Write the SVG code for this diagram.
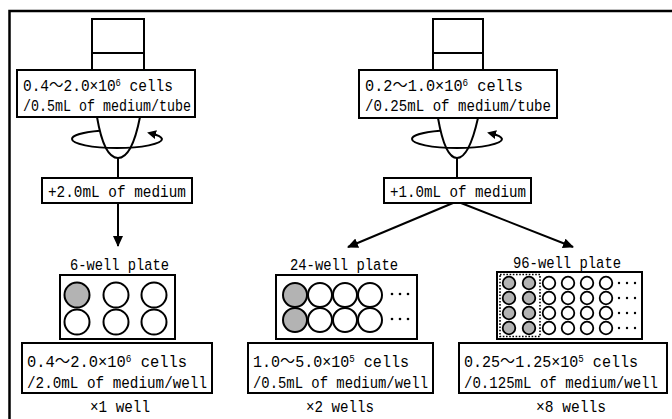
<svg xmlns="http://www.w3.org/2000/svg" width="672" height="419" viewBox="0 0 672 419">
<style>
.t{font-family:"Liberation Mono","Noto Sans CJK JP",monospace;font-size:14px;fill:#000}
.sup{font-size:8.5px}
.box{fill:#fff;stroke:#000;stroke-width:2}
.ln{fill:none;stroke:#000;stroke-width:2}
.w{fill:#fff;stroke:#000;stroke-width:2}
.g{fill:#b3b3b3;stroke:#000;stroke-width:2}
.sw{fill:#fff;stroke:#000;stroke-width:1.8}
.sg{fill:#b3b3b3;stroke:#000;stroke-width:1.8}
.dot{fill:#000}
</style>
<defs>
<marker id="ah" markerUnits="userSpaceOnUse" markerWidth="11" markerHeight="10" refX="10" refY="5" orient="auto">
<path d="M0,0 L11,5 L0,10 z" fill="#000"/>
</marker>
<marker id="rh" markerUnits="userSpaceOnUse" markerWidth="9" markerHeight="9" refX="5" refY="4.5" orient="auto">
<path d="M0,0 L9,4.5 L0,9 z" fill="#000"/>
</marker>
</defs>
<rect width="672" height="419" fill="#fff"/>
<path d="M9.5,419 V11 H672" fill="none" stroke="#000" stroke-width="2.5"/>

<g id="tube-left">
<rect class="ln" x="92" y="19" width="52" height="51"/>
<line class="ln" x1="92" y1="53" x2="144" y2="53"/>
<path class="ln" d="M97,117 Q104,158 118,158 Q132,158 140,117"/>
<path class="ln" d="M100,130.7 A45,9 0 0 0 72,139 A45,9 0 0 0 117,148 A45,9 0 0 0 162,139 A45,9 0 0 0 151,133.5" marker-end="url(#rh)"/>
</g>
<g id="box-left-tube">
<rect class="box" x="17" y="70" width="178" height="47"/>
<text class="t" transform="translate(23,91) scale(1,1.18)" textLength="150" lengthAdjust="spacingAndGlyphs">0.4～2.0×10<tspan class="sup" dy="-4.5">6</tspan><tspan dy="4.5"> cells</tspan></text>
<text class="t" transform="translate(23,111) scale(1,1.18)" textLength="168" lengthAdjust="spacingAndGlyphs">/0.5mL of medium/tube</text>
</g>
<g id="box-left-medium">
<rect class="box" x="42" y="178" width="150" height="25"/>
<text class="t" transform="translate(48,197) scale(1,1.18)" textLength="138" lengthAdjust="spacingAndGlyphs">+2.0mL of medium</text>
</g>

<g id="tube-right">
<rect class="ln" x="433" y="19" width="50" height="51"/>
<line class="ln" x1="433" y1="53" x2="483" y2="53"/>
<path class="ln" d="M438,118 Q445,158 457,158 Q469,158 478,118"/>
<path class="ln" d="M440,130.7 A45,9 0 0 0 412,139 A45,9 0 0 0 457,148 A45,9 0 0 0 502,139 A45,9 0 0 0 491,133.5" marker-end="url(#rh)"/>
</g>
<g id="box-right-tube">
<rect class="box" x="359" y="70" width="198" height="48"/>
<text class="t" transform="translate(365,91) scale(1,1.18)" textLength="158" lengthAdjust="spacingAndGlyphs">0.2～1.0×10<tspan class="sup" dy="-4.5">6</tspan><tspan dy="4.5"> cells</tspan></text>
<text class="t" transform="translate(365,111) scale(1,1.18)" textLength="186" lengthAdjust="spacingAndGlyphs">/0.25mL of medium/tube</text>
</g>
<g id="box-right-medium">
<rect class="box" x="384" y="178" width="147" height="25"/>
<text class="t" transform="translate(390,197) scale(1,1.18)" textLength="136" lengthAdjust="spacingAndGlyphs">+1.0mL of medium</text>
</g>

<g id="connectors">
<line class="ln" x1="118" y1="158" x2="118" y2="178"/>
<line class="ln" x1="457" y1="158" x2="457" y2="178"/>
<line class="ln" x1="118" y1="203" x2="118" y2="246" marker-end="url(#ah)"/>
<line class="ln" x1="453" y1="203" x2="348" y2="247" marker-end="url(#ah)"/>
<line class="ln" x1="461" y1="203" x2="573" y2="247" marker-end="url(#ah)"/>
</g>

<g id="plate-6">
<text class="t" transform="translate(70,270) scale(1,1.18)" textLength="99" lengthAdjust="spacingAndGlyphs">6-well plate</text>
<rect class="box" x="60" y="275" width="115" height="64"/>
<circle class="g" cx="77" cy="295" r="12.5"/>
<circle class="w" cx="116" cy="295" r="12.5"/>
<circle class="w" cx="154" cy="295" r="12.5"/>
<circle class="w" cx="77" cy="322" r="12.5"/>
<circle class="w" cx="116" cy="322" r="12.5"/>
<circle class="w" cx="154" cy="322" r="12.5"/>
</g>
<g id="box-6">
<rect class="box" x="22" y="343" width="190" height="50"/>
<text class="t" transform="translate(27,367) scale(1,1.18)" textLength="160" lengthAdjust="spacingAndGlyphs">0.4～2.0×10<tspan class="sup" dy="-4.5">6</tspan><tspan dy="4.5"> cells</tspan></text>
<text class="t" transform="translate(27,388) scale(1,1.18)" textLength="180" lengthAdjust="spacingAndGlyphs">/2.0mL of medium/well</text>
<text class="t" transform="translate(90,412) scale(1,1.18)" textLength="60" lengthAdjust="spacingAndGlyphs">×1 well</text>
</g>

<g id="plate-24">
<text class="t" transform="translate(290,270) scale(1,1.18)" textLength="108" lengthAdjust="spacingAndGlyphs">24-well plate</text>
<rect class="box" x="276" y="275" width="141" height="64"/>
<circle class="g" cx="295" cy="295" r="12"/>
<circle class="w" cx="320" cy="295" r="12"/>
<circle class="w" cx="345" cy="295" r="12"/>
<circle class="w" cx="370" cy="295" r="12"/>
<circle class="g" cx="295" cy="320" r="12"/>
<circle class="w" cx="320" cy="320" r="12"/>
<circle class="w" cx="345" cy="320" r="12"/>
<circle class="w" cx="370" cy="320" r="12"/>
<circle class="dot" cx="392" cy="294" r="1.3"/><circle class="dot" cx="400" cy="294" r="1.3"/><circle class="dot" cx="408" cy="294" r="1.3"/>
<circle class="dot" cx="392" cy="319" r="1.3"/><circle class="dot" cx="400" cy="319" r="1.3"/><circle class="dot" cx="408" cy="319" r="1.3"/>
</g>
<g id="box-24">
<rect class="box" x="248" y="343" width="185" height="50"/>
<text class="t" transform="translate(253,367) scale(1,1.18)" textLength="156" lengthAdjust="spacingAndGlyphs">1.0～5.0×10<tspan class="sup" dy="-4.5">5</tspan><tspan dy="4.5"> cells</tspan></text>
<text class="t" transform="translate(253,388) scale(1,1.18)" textLength="175" lengthAdjust="spacingAndGlyphs">/0.5mL of medium/well</text>
<text class="t" transform="translate(306,412) scale(1,1.18)" textLength="68" lengthAdjust="spacingAndGlyphs">×2 wells</text>
</g>

<g id="plate-96">
<text class="t" transform="translate(513,268) scale(1,1.18)" textLength="108" lengthAdjust="spacingAndGlyphs">96-well plate</text>
<rect class="box" x="497" y="272" width="145" height="67"/>
<rect x="500" y="274.5" width="40" height="62" fill="none" stroke="#000" stroke-width="1.6" stroke-dasharray="1.6,1.6"/>
<g id="wells-96">
<circle class="sg" cx="509" cy="283" r="6.3"/><circle class="sg" cx="529" cy="283" r="6.3"/>
<circle class="sw" cx="549" cy="283" r="6.3"/><circle class="sw" cx="568" cy="283" r="6.3"/><circle class="sw" cx="587" cy="283" r="6.3"/><circle class="sw" cx="606" cy="283" r="6.3"/>
<circle class="sg" cx="509" cy="298" r="6.3"/><circle class="sg" cx="529" cy="298" r="6.3"/>
<circle class="sw" cx="549" cy="298" r="6.3"/><circle class="sw" cx="568" cy="298" r="6.3"/><circle class="sw" cx="587" cy="298" r="6.3"/><circle class="sw" cx="606" cy="298" r="6.3"/>
<circle class="sg" cx="509" cy="313" r="6.3"/><circle class="sg" cx="529" cy="313" r="6.3"/>
<circle class="sw" cx="549" cy="313" r="6.3"/><circle class="sw" cx="568" cy="313" r="6.3"/><circle class="sw" cx="587" cy="313" r="6.3"/><circle class="sw" cx="606" cy="313" r="6.3"/>
<circle class="sg" cx="509" cy="328" r="6.3"/><circle class="sg" cx="529" cy="328" r="6.3"/>
<circle class="sw" cx="549" cy="328" r="6.3"/><circle class="sw" cx="568" cy="328" r="6.3"/><circle class="sw" cx="587" cy="328" r="6.3"/><circle class="sw" cx="606" cy="328" r="6.3"/>
<circle class="dot" cx="619" cy="283" r="1.2"/><circle class="dot" cx="627" cy="283" r="1.2"/><circle class="dot" cx="635" cy="283" r="1.2"/>
<circle class="dot" cx="619" cy="298" r="1.2"/><circle class="dot" cx="627" cy="298" r="1.2"/><circle class="dot" cx="635" cy="298" r="1.2"/>
<circle class="dot" cx="619" cy="313" r="1.2"/><circle class="dot" cx="627" cy="313" r="1.2"/><circle class="dot" cx="635" cy="313" r="1.2"/>
<circle class="dot" cx="619" cy="328" r="1.2"/><circle class="dot" cx="627" cy="328" r="1.2"/><circle class="dot" cx="635" cy="328" r="1.2"/>
</g>
</g>
<g id="box-96">
<rect class="box" x="459" y="343" width="208" height="50"/>
<text class="t" transform="translate(464,367) scale(1,1.18)" textLength="174" lengthAdjust="spacingAndGlyphs">0.25～1.25×10<tspan class="sup" dy="-4.5">5</tspan><tspan dy="4.5"> cells</tspan></text>
<text class="t" transform="translate(464,388) scale(1,1.18)" textLength="194" lengthAdjust="spacingAndGlyphs">/0.125mL of medium/well</text>
<text class="t" transform="translate(536,412) scale(1,1.18)" textLength="70" lengthAdjust="spacingAndGlyphs">×8 wells</text>
</g>
</svg>
